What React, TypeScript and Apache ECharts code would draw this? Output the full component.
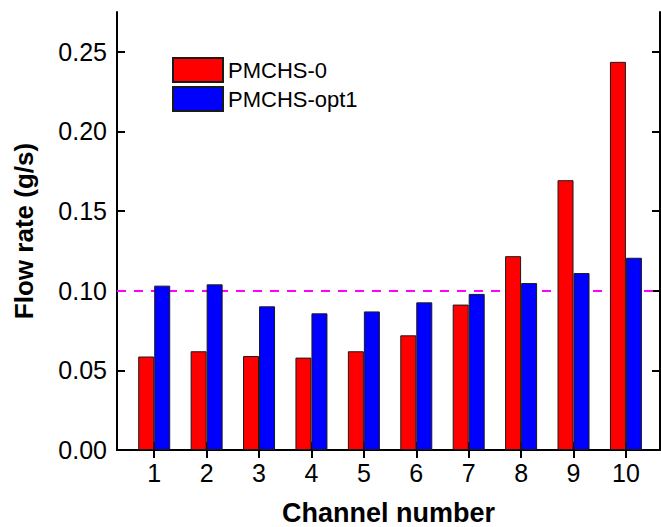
import React, { useEffect, useRef } from "react";
import * as echarts from "echarts";

const channels = [1, 2, 3, 4, 5, 6, 7, 8, 9, 10];
const pmchs0 = [0.0587, 0.062, 0.059, 0.058, 0.062, 0.072, 0.0913, 0.1217, 0.1694, 0.2437];
const pmchsOpt1 = [0.1032, 0.104, 0.0902, 0.0858, 0.087, 0.0927, 0.098, 0.1048, 0.1111, 0.1207];
const yTicks = [0, 0.05, 0.1, 0.15, 0.2, 0.25];
const referenceFlow = 0.1;

const FONT = "'Liberation Sans', Arial, Helvetica, sans-serif";

export default function App() {
  const ref = useRef<HTMLDivElement>(null);
  useEffect(() => {
    document.body.style.margin = "0";
    const chart = echarts.init(ref.current!, undefined, { renderer: "svg" });
    const axisLine = { show: true, lineStyle: { color: "#000", width: 2 } };
    const tick = { inside: true, length: 8, lineStyle: { color: "#000", width: 2 } };
    chart.setOption({
      animation: false,
      backgroundColor: "#fff",
      textStyle: { fontFamily: FONT },
      grid: {
        left: 117,
        right: 1,
        top: 12,
        bottom: 77,
        containLabel: false,
        outerBoundsMode: "none",
      },
      legend: {
        left: 172,
        top: 57,
        padding: 0,
        orient: "vertical",
        itemWidth: 50,
        itemHeight: 24,
        itemGap: 3,
        icon: "rect",
        textStyle: { fontFamily: FONT, fontSize: 22, color: "#000" },
        data: ["PMCHS-0", "PMCHS-opt1"],
      },
      xAxis: [
        {
          type: "value",
          min: 0.29,
          max: 10.65,
          name: "Channel number",
          nameLocation: "middle",
          nameGap: 49,
          nameTextStyle: { fontFamily: FONT, fontSize: 27, fontWeight: "bold", color: "#000" },
          axisLine,
          axisTick: { ...tick, customValues: channels },
          axisLabel: {
            customValues: channels,
            margin: 10,
            fontFamily: FONT,
            fontSize: 25,
            color: "#000",
          },
          splitLine: { show: false },
        },
        {
          type: "value",
          position: "top",
          min: 0.29,
          max: 10.65,
          axisLine,
          axisTick: { ...tick, customValues: channels },
          axisLabel: { show: false },
          splitLine: { show: false },
        },
      ],
      yAxis: [
        {
          type: "value",
          min: 0,
          max: 0.275,
          name: "Flow rate (g/s)",
          nameLocation: "middle",
          nameGap: 80,
          nameTextStyle: { fontFamily: FONT, fontSize: 26, fontWeight: "bold", color: "#000" },
          axisLine,
          axisTick: { ...tick, customValues: yTicks },
          axisLabel: {
            customValues: yTicks,
            margin: 10,
            fontFamily: FONT,
            fontSize: 25,
            color: "#000",
            formatter: (v: number) => v.toFixed(2),
          },
          splitLine: { show: false },
        },
        {
          type: "value",
          position: "right",
          min: 0,
          max: 0.275,
          axisLine,
          axisTick: { ...tick, customValues: yTicks },
          axisLabel: { show: false },
          splitLine: { show: false },
        },
      ],
      series: [
        {
          name: "PMCHS-0",
          type: "bar",
          xAxisIndex: 0,
          yAxisIndex: 0,
          barWidth: 16,
          barGap: "0%",
          itemStyle: { color: "#ff0000", borderColor: "#1a1a1a", borderWidth: 1 },
          data: channels.map((c, i) => [c, pmchs0[i]]),
          markLine: {
            silent: true,
            z: 1,
            symbol: "none",
            label: { show: false },
            lineStyle: { color: "#ff00ff", width: 2, type: [9, 8] },
            data: [{ yAxis: referenceFlow }],
          },
          z: 3,
        },
        {
          name: "PMCHS-opt1",
          type: "bar",
          xAxisIndex: 0,
          yAxisIndex: 0,
          barWidth: 16,
          barGap: "0%",
          itemStyle: { color: "#0000ff", borderColor: "#1a1a1a", borderWidth: 1 },
          data: channels.map((c, i) => [c, pmchsOpt1[i]]),
          z: 3,
        },
      ],
    });
    return () => chart.dispose();
  }, []);
  return (
    <div
      ref={ref}
      style={{ position: "fixed", left: 0, top: 0, width: 661, height: 527 }}
    />
  );
}
